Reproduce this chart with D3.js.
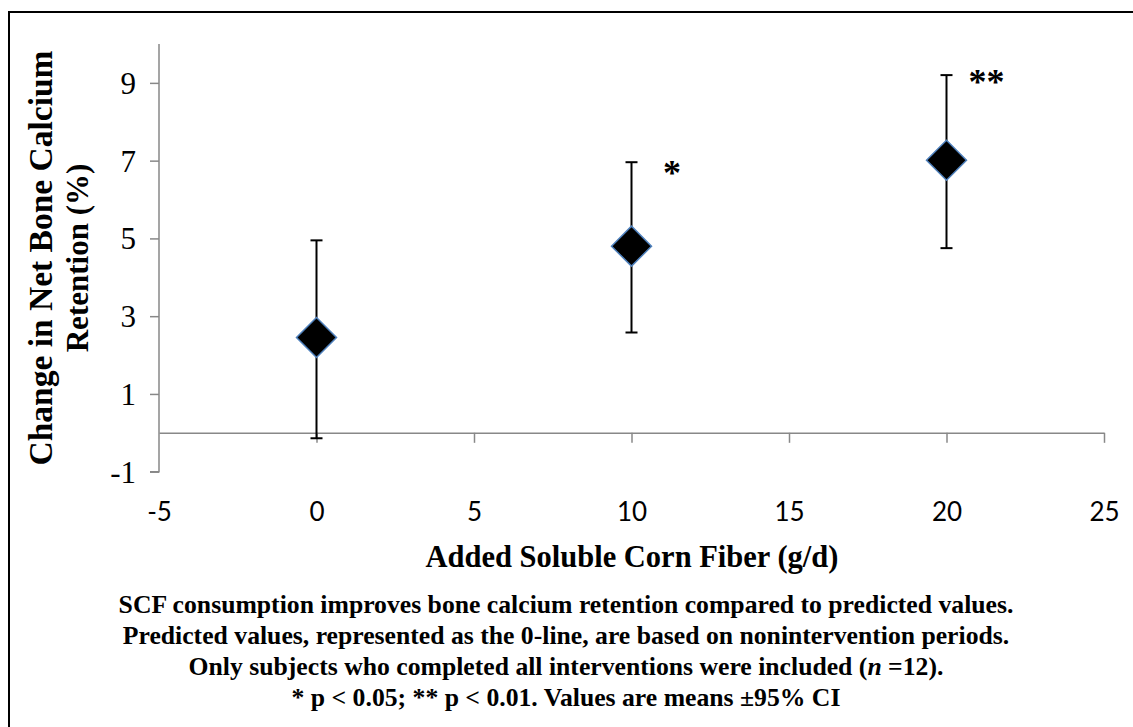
<!DOCTYPE html>
<html lang="en">
<head>
    <meta charset="UTF-8">
    <title>SCF and bone calcium retention</title>
    <script src="https://d3js.org/d3.v7.min.js"></script>
    <style>
        body {
            margin: 0;
            background-color: #ffffff;
        }
        .serif {
            font-family: "Liberation Serif", "Times New Roman", serif;
        }
        .axis path, .axis line {
            stroke: #888888;
            stroke-width: 1.5;
        }
    </style>
</head>
<body>
    <svg id="chart" width="1133" height="727"></svg>
    <script>
        // Data
        const doses = [0, 10, 20];
        const means = [2.45, 4.80, 7.01];
        const ciLow = [-0.14, 2.58, 4.75];
        const ciHigh = [4.95, 6.96, 9.2];
        const sigLabels = ["*", "**"];
        const sigX = [11, 20.7];
        const sigY = [6.8, 9.15];
        const xTicks = [-5, 0, 5, 10, 15, 20, 25];
        const yTicks = [-1, 1, 3, 5, 7, 9];
        const captionLines = [
            "SCF consumption improves bone calcium retention compared to predicted values.",
            "Predicted values, represented as the 0-line, are based on nonintervention periods.",
            null,
            "* p < 0.05; ** p < 0.01. Values are means \u00b195% CI"
        ];

        const svg = d3.select("#chart");

        // outer frame (right and bottom edges fall off the page)
        svg.append("rect")
            .attr("x", 9).attr("y", 12)
            .attr("width", 1200).attr("height", 800)
            .attr("fill", "none")
            .attr("stroke", "#000")
            .attr("stroke-width", 2);

        const x = d3.scaleLinear().domain([-5, 25]).range([159, 1104]);
        const y = d3.scaleLinear().domain([-1, 10]).range([471.7, 44]);

        // y axis
        const yAxis = svg.append("g")
            .attr("class", "axis")
            .attr("transform", `translate(${x(-5)},0)`)
            .call(d3.axisLeft(y).tickValues(yTicks).tickSize(9).tickSizeOuter(0).tickPadding(14));
        yAxis.select(".domain").attr("d", `M0,${y(10)}V${y(-1)}H-9`);
        yAxis.selectAll("text")
            .attr("class", "serif")
            .style("font-size", "31px")
            .attr("fill", "#000")
            .attr("dy", "0.34em")
            .text(d => d < 0 ? "-" + Math.abs(d) : d);

        // x axis on the zero line
        const xAxis = svg.append("g")
            .attr("class", "axis")
            .attr("transform", `translate(0,${y(0)})`)
            .call(d3.axisBottom(x).tickValues(xTicks).tickSize(10).tickSizeOuter(0).tickPadding(0));
        xAxis.selectAll("text")
            .attr("y", 0)
            .attr("dy", null)
            .attr("transform", `translate(0,${521 - y(0)})`)
            .style("font-family", "Lato, 'Open Sans', sans-serif")
            .style("font-size", "26px")
            .attr("fill", "#000")
            .text(d => d < 0 ? "-" + Math.abs(d) : d);
        xAxis.selectAll(".tick").filter(d => d === -5).select("line").remove();

        // error bars
        const bars = svg.append("g");
        doses.forEach((d, i) => {
            const cx = x(d);
            bars.append("line")
                .attr("x1", cx).attr("x2", cx)
                .attr("y1", y(ciLow[i])).attr("y2", y(ciHigh[i]))
                .attr("stroke", "#000").attr("stroke-width", 2);
            [ciLow[i], ciHigh[i]].forEach(v => {
                bars.append("line")
                    .attr("x1", cx - 6).attr("x2", cx + 6)
                    .attr("y1", y(v)).attr("y2", y(v))
                    .attr("stroke", "#000").attr("stroke-width", 2);
            });
        });

        // diamonds
        const diamond = d3.symbol().type(d3.symbolSquare).size(800);
        svg.append("g").selectAll("path")
            .data(doses)
            .join("path")
            .attr("d", diamond)
            .attr("transform", (d, i) => `translate(${x(d)},${y(means[i])}) rotate(45)`)
            .attr("fill", "#000")
            .attr("stroke", "#4f81bd")
            .attr("stroke-width", 1.5);

        // significance marks
        svg.append("g").selectAll("text")
            .data(sigLabels)
            .join("text")
            .attr("class", "serif")
            .attr("x", (d, i) => x(sigX[i]))
            .attr("y", (d, i) => y(sigY[i]) + 17)
            .style("font-size", "36px")
            .style("font-weight", "bold")
            .text(d => d);

        // axis titles
        svg.append("text")
            .attr("class", "serif")
            .attr("transform", "translate(52,258) rotate(-90)")
            .attr("text-anchor", "middle")
            .style("font-size", "33.5px")
            .style("font-weight", "bold")
            .text("Change in Net Bone Calcium");
        svg.append("text")
            .attr("class", "serif")
            .attr("transform", "translate(88,258) rotate(-90)")
            .attr("text-anchor", "middle")
            .style("font-size", "31px")
            .style("font-weight", "bold")
            .text("Retention (%)");

        svg.append("text")
            .attr("class", "serif")
            .attr("x", 632).attr("y", 567)
            .attr("text-anchor", "middle")
            .style("font-size", "30.5px")
            .style("font-weight", "bold")
            .text("Added Soluble Corn Fiber (g/d)");

        // caption
        const cap = svg.append("g")
            .attr("class", "serif")
            .attr("text-anchor", "middle")
            .style("font-size", "25.7px")
            .style("font-weight", "bold");
        captionLines.forEach((line, i) => {
            const t = cap.append("text").attr("x", 566).attr("y", 613 + i * 31);
            if (line) {
                t.text(line);
            } else {
                t.append("tspan").text("Only subjects who completed all interventions were included (");
                t.append("tspan").style("font-style", "italic").text("n");
                t.append("tspan").text(" =12).");
            }
        });
    </script>
</body>
</html>
